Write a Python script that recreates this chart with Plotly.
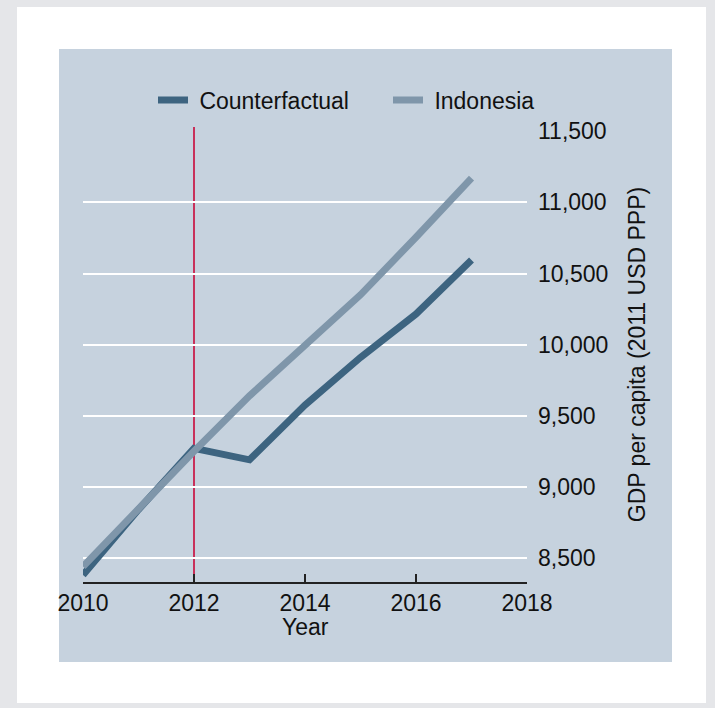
import plotly.graph_objects as go

years = [2010, 2011, 2012, 2013, 2014, 2015, 2016, 2017]
counterfactual = [8380, 8840, 9270, 9190, 9575, 9910, 10215, 10595]
indonesia = [8440, 8850, 9250, 9640, 10000, 10350, 10755, 11170]
treatment_year = 2012
x_ticks = [2010, 2012, 2014, 2016, 2018]
y_ticks = [8500, 9000, 9500, 10000, 10500, 11000, 11500]
grid_vals = [8500, 9000, 9500, 10000, 10500, 11000]

FONT = "Liberation Sans, Arial, sans-serif"
TXT = "#111111"
FS = 23
YR = [8331, 11530]
NB = "\u00a0"

fig = go.Figure()
fig.add_trace(go.Scatter(x=years, y=counterfactual, mode="lines", name=NB + "Counterfactual",
                         line=dict(color="#3d6480", width=7), hoverinfo="skip",
                         legendwidth=190))
fig.add_trace(go.Scatter(x=years, y=indonesia, mode="lines", name=NB + "Indonesia",
                         line=dict(color="#7f96aa", width=7), hoverinfo="skip",
                         legendwidth=110))
fig.add_trace(go.Scatter(x=[years[0]], y=[None], yaxis="y2", mode="lines",
                         showlegend=False, hoverinfo="skip"))

shapes = [
    dict(type="rect", xref="paper", yref="paper", x0=-83/444, x1=(715-83)/444,
         y0=-126/455, y1=(708-126)/455, fillcolor="#e5e6e9", line=dict(width=0), layer="below"),
    dict(type="rect", xref="paper", yref="paper", x0=(17-83)/444, x1=(706-83)/444,
         y0=(582-703)/455, y1=(582-7)/455, fillcolor="#ffffff", line=dict(width=0), layer="below"),
    dict(type="rect", xref="paper", yref="paper", x0=(59-83)/444, x1=(672-83)/444,
         y0=(582-662)/455, y1=(582-49)/455, fillcolor="#c6d2de", line=dict(width=0), layer="below"),
    dict(type="line", xref="x", yref="paper", x0=treatment_year, x1=treatment_year,
         y0=0, y1=1, line=dict(color="#c8305a", width=2), layer="below"),
]

fig.update_layout(
    width=715, height=708,
    margin=dict(l=83, r=188, t=127, b=126),
    paper_bgcolor="#ffffff", plot_bgcolor="rgba(0,0,0,0)",
    font=dict(family=FONT, size=FS, color=TXT),
    shapes=shapes,
    showlegend=True,
    legend=dict(orientation="h", x=(153-83)/444, xanchor="left", y=1 + (127-100)/455,
                yanchor="middle", bgcolor="rgba(0,0,0,0)", font=dict(size=FS, color=TXT),
                entrywidthmode="pixels"),
    xaxis=dict(range=[2010, 2018], tickvals=x_ticks, ticks="inside", ticklen=8,
               tickcolor="#222222", tickwidth=1.5, showline=True, linecolor="#222222",
               linewidth=1.5, showgrid=False, zeroline=False,
               tickfont=dict(size=FS, color=TXT)),
    yaxis=dict(range=YR, tickvals=grid_vals, showticklabels=False, showgrid=True,
               gridcolor="#ffffff", gridwidth=2, zeroline=False, ticks="", showline=False),
    yaxis2=dict(range=YR, overlaying="y", side="right", tickvals=y_ticks,
                tickformat=",", showgrid=False, zeroline=False, ticks="", showline=False,
                ticklabelstandoff=10, tickfont=dict(size=FS, color=TXT),
                title=dict(text="GDP per capita (2011 USD PPP)", standoff=21,
                           font=dict(size=FS, color=TXT))),
    annotations=[dict(text="Year", xref="paper", yref="paper", x=0.5, y=(582-627)/455,
                      xanchor="center", yanchor="middle", showarrow=False,
                      font=dict(size=FS, color=TXT))],
)

fig.write_html("out.html")
